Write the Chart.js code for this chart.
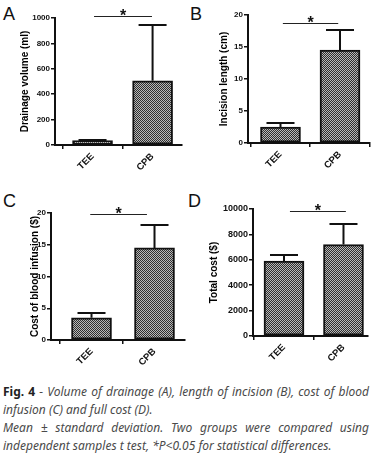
<!DOCTYPE html>
<html>
<head>
<meta charset="utf-8">
<script src="https://cdn.jsdelivr.net/npm/chart.js@4.4.0/dist/chart.umd.min.js"></script>
<style>
  body { margin: 0; background: #fff; width: 375px; height: 459px; position: relative; overflow: hidden; font-family: "Liberation Sans", Arial, sans-serif; }
  canvas { position: absolute; }
  .letter { position: absolute; font-size: 18px; line-height: 18px; color: #111; }
  .caption { position: absolute; left: 3px; top: 383px; width: 366px; font-family: "Noto Sans", sans-serif; font-size: 12px; line-height: 18px; color: #4a4a4a; font-style: italic; }
  .caption div { white-space: nowrap; }
  .caption .j { text-align: justify; text-align-last: justify; }
  .caption b { font-style: normal; color: #222; }
</style>
</head>
<body>
<div class="letter" style="left:3px;top:5px">A</div>
<div class="letter" style="left:190px;top:5px">B</div>
<div class="letter" style="left:3px;top:192px">C</div>
<div class="letter" style="left:188px;top:192px">D</div>
<canvas id="chartA" width="187" height="190" style="left:0;top:0"></canvas>
<canvas id="chartB" width="188" height="190" style="left:187px;top:0"></canvas>
<canvas id="chartC" width="187" height="190" style="left:0;top:190px"></canvas>
<canvas id="chartD" width="188" height="190" style="left:187px;top:190px"></canvas>
<div class="caption">
  <div class="j"><b>Fig. 4</b> - Volume of drainage (A), length of incision (B), cost of blood</div>
  <div>infusion (C) and full cost (D).</div>
  <div class="j">Mean ± standard deviation. Two groups were compared using</div>
  <div>independent samples t test, *P&lt;0.05 for statistical differences.</div>
</div>
<script>
const categories = ['TEE', 'CPB'];

const drainageMean = [35, 505];
const drainageSD = [8, 440];
const drainageTicks = [0, 200, 400, 600, 800, 1000];

const incisionMean = [2.5, 14.5];
const incisionSD = [0.7, 3.1];
const incisionTicks = [0, 5, 10, 15, 20];

const bloodMean = [3.5, 14.5];
const bloodSD = [0.75, 3.6];
const bloodTicks = [0, 5, 10, 15, 20];

const totalMean = [5900, 7200];
const totalSD = [450, 1650];
const totalTicks = [0, 2000, 4000, 6000, 8000, 10000];

const tickFont = '"Liberation Sans Narrow", "Liberation Sans", Arial';

// fine checker fill like the Prism bars
function checker() {
    const c = document.createElement('canvas');
    c.width = 2; c.height = 2;
    const g = c.getContext('2d');
    g.fillStyle = '#b8b8b8';
    g.fillRect(0, 0, 2, 2);
    g.fillStyle = '#2e2e2e';
    g.fillRect(0, 0, 1, 1);
    g.fillRect(1, 1, 1, 1);
    return g.createPattern(c, 'repeat');
}

// upper SD whiskers
const errorBars = {
    id: 'errorBars',
    afterDatasetsDraw(chart, args, opts) {
        if (!opts.sd) return;
        const { ctx, scales: { y } } = chart;
        const meta = chart.getDatasetMeta(0);
        const data = chart.data.datasets[0].data;
        ctx.save();
        ctx.strokeStyle = '#111';
        ctx.lineWidth = 2;
        meta.data.forEach((bar, i) => {
            const top = Math.round(y.getPixelForValue(data[i].y + opts.sd[i]));
            ctx.beginPath();
            ctx.moveTo(bar.x, bar.y);
            ctx.lineTo(bar.x, top);
            ctx.moveTo(bar.x - 14, top);
            ctx.lineTo(bar.x + 14, top);
            ctx.stroke();
        });
        ctx.restore();
    }
};

// significance bracket with star
const sigBar = {
    id: 'sigBar',
    afterDraw(chart, args, o) {
        if (o.level === undefined) return;
        const { ctx, scales: { x, y } } = chart;
        const x0 = x.getPixelForValue(o.from);
        const x1 = x.getPixelForValue(o.to);
        const yy = Math.round(y.getPixelForValue(o.level)) + 0.5;
        ctx.save();
        ctx.strokeStyle = '#222';
        ctx.lineWidth = 1.2;
        ctx.beginPath();
        ctx.moveTo(x0, yy);
        ctx.lineTo(x1, yy);
        ctx.stroke();
        ctx.fillStyle = '#111';
        ctx.font = 'bold 16px "Liberation Sans"';
        ctx.textAlign = 'center';
        ctx.fillText('*', (x0 + x1) / 2, yy + 4);
        ctx.restore();
    }
};

Chart.register(errorBars, sigBar);

function makeChart(id, cfg) {
    const canvas = document.getElementById(id);
    const W = canvas.width, H = canvas.height;
    const a = cfg.area;
    const axisLine = { display: true, color: '#111', width: 2 };
    const tickMarks = { display: true, drawOnChartArea: false, drawTicks: true, tickLength: 4, color: '#111', lineWidth: 1.5 };
    return new Chart(canvas, {
        type: 'bar',
        data: {
            datasets: [{
                data: cfg.mean.map((v, i) => ({ x: i, y: v })),
                backgroundColor: checker(),
                borderColor: '#111',
                borderWidth: 2,
                borderSkipped: false,
                barThickness: 40
            }]
        },
        options: {
            responsive: false,
            animation: false,
            devicePixelRatio: 1,
            layout: { padding: { left: 0, top: a.top, right: W - a.right, bottom: 0 } },
            scales: {
                x: {
                    type: 'linear',
                    offset: false,
                    min: cfg.xRange[0],
                    max: cfg.xRange[1],
                    afterBuildTicks: s => { s.ticks = categories.map((c, i) => ({ value: i })); },
                    afterFit: s => { s.height = H - a.bottom; },
                    ticks: {
                        autoSkip: false,
                        minRotation: 45,
                        maxRotation: 45,
                        padding: 2,
                        color: '#111',
                        font: { family: 'Liberation Sans', weight: 'bold', size: 9.5 },
                        callback: v => categories[v]
                    },
                    grid: tickMarks,
                    border: axisLine
                },
                y: {
                    min: cfg.ticks[0],
                    max: cfg.ticks[cfg.ticks.length - 1],
                    afterBuildTicks: s => { s.ticks = cfg.ticks.map(v => ({ value: v })); },
                    afterFit: s => { s.width = a.left; },
                    ticks: {
                        padding: 1,
                        color: '#111',
                        font: { family: tickFont, weight: 'bold', size: cfg.tickSize },
                        callback: v => String(v)
                    },
                    grid: tickMarks,
                    border: axisLine,
                    title: {
                        display: true,
                        text: cfg.title,
                        color: '#000',
                        font: { family: 'Liberation Sans', weight: 'bold', size: 10 },
                        padding: { top: cfg.titlePad, bottom: 0 }
                    }
                }
            },
            plugins: {
                legend: { display: false },
                tooltip: { enabled: false },
                errorBars: { sd: cfg.sd },
                sigBar: cfg.sig
            }
        }
    });
}

makeChart('chartA', {
    mean: drainageMean, sd: drainageSD, ticks: drainageTicks,
    title: 'Drainage volume (ml)', titlePad: 19, tickSize: 8,
    area: { left: 55, top: 18, right: 182, bottom: 145 },
    xRange: [-0.625, 1.49],
    sig: { from: 0.025, to: 0.99, level: 1016 }
});

makeChart('chartB', {
    mean: incisionMean, sd: incisionSD, ticks: incisionTicks,
    title: 'Incision length (cm)', titlePad: 31, tickSize: 8,
    area: { left: 61, top: 15, right: 183, bottom: 143 },
    xRange: [-0.546, 1.504],
    sig: { from: 0.04, to: 0.97, level: 18.8 }
});

makeChart('chartC', {
    mean: bloodMean, sd: bloodSD, ticks: bloodTicks,
    title: 'Cost of blood infusion ($)', titlePad: 29, tickSize: 8,
    area: { left: 51, top: 23, right: 185, bottom: 150 },
    xRange: [-0.643, 1.484],
    sig: { from: -0.02, to: 0.88, level: 19.8 }
});

makeChart('chartD', {
    mean: totalMean, sd: totalSD, ticks: totalTicks,
    title: 'Total cost ($)', titlePad: 21, tickSize: 9,
    area: { left: 66, top: 19, right: 181, bottom: 146 },
    xRange: [-0.521, 1.412],
    sig: { from: 0.1, to: 1.04, level: 9850 }
});
</script>
</body>
</html>
